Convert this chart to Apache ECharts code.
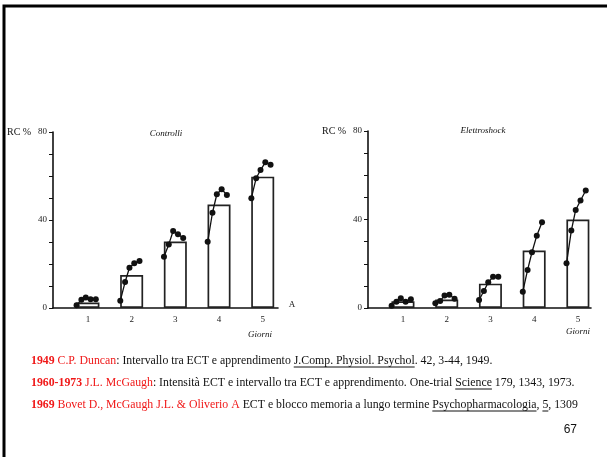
<!DOCTYPE html>
<html><head><meta charset="utf-8">
<script src="https://cdn.jsdelivr.net/npm/echarts@6/dist/echarts.min.js"></script>
<style>html,body{margin:0;padding:0;background:#fff}#c{width:607px;height:457px}</style>
</head><body><div id="c"></div>
<script>
// ---- data ----
const days = [1, 2, 3, 4, 5];
const trialPos = [-0.26, -0.15, -0.05, 0.06, 0.18]; // trial position within a day (axis units)
const controlBars = [2.5, 15, 30.2, 47, 59.7];
const shockBars = [3.0, 3.8, 11, 26, 40];
const controlTrials = [
  [1.2, 3.8, 4.8, 4.0, 4.0],
  [3.3, 11.8, 18.3, 20.3, 21.4],
  [23.3, 28.9, 35, 33.5, 31.8],
  [30.1, 43.3, 51.7, 54, 51.4],
  [49.9, 59, 62.7, 66.2, 65.1]
];
const shockTrials = [
  [1.0, 2.8, 4.4, 2.8, 3.9],
  [2.2, 3.2, 5.6, 6.0, 4.2],
  [3.6, 7.7, 11.6, 14.1, 14.1],
  [7.4, 17.2, 25.2, 32.7, 38.8],
  [20.2, 35, 44.3, 48.6, 53.1]
];
const yLabelValues = [0, 40, 80];
const chartTitles = ['Controlli', 'Elettroshock'];
const yName = 'RC %';
const xName = 'Giorni';
const citations = [
  [{t:'1949', c:'#f01818', b:true}, {t:' C.P. Duncan', c:'#f01818'}, {t:': Intervallo tra ECT e apprendimento ', c:'#111'}, {t:'J.Comp. Physiol. Psychol', c:'#111', u:true}, {t:'. 42, 3-44, 1949.', c:'#111'}],
  [{t:'1960-1973', c:'#f01818', b:true}, {t:' J.L. McGaugh', c:'#f01818'}, {t:': Intensità ECT e intervallo tra ECT e apprendimento. One-trial ', c:'#111'}, {t:'Science', c:'#111', u:true}, {t:' 179, 1343, 1973.', c:'#111'}],
  [{t:'1969', c:'#f01818', b:true}, {t:' Bovet D., McGaugh J.L. & Oliverio A', c:'#f01818'}, {t:' ECT e blocco memoria a lungo termine ', c:'#111'}, {t:'Psychopharmacologia', c:'#111', u:true}, {t:', ', c:'#111'}, {t:'5', c:'#111', u:true}, {t:', 1309', c:'#111'}]
];
const pageNumber = '67';

// ---- chart ----
const SERIF = '"Liberation Serif", "Times New Roman", serif';
const chart = echarts.init(document.getElementById('c'), null, {renderer: 'canvas'});

function xAxisFor(i, max) {
  return {
    type: 'value', gridIndex: i, min: 0.2, max: max,
    splitLine: {show: false},
    axisLine: {show: true, onZero: false, lineStyle: {color: '#111', width: 1.6}},
    axisTick: {show: false},
    axisLabel: {customValues: days, margin: 7, color: '#222', fontFamily: SERIF, fontSize: 9}
  };
}
function yAxisFor(i) {
  return {
    type: 'value', gridIndex: i, min: 0, max: 80, interval: 10,
    splitLine: {show: false},
    axisLine: {show: true, lineStyle: {color: '#111', width: 1.6}},
    axisTick: {show: true, length: 4, lineStyle: {color: '#111', width: 1}},
    axisLabel: {margin: 6, color: '#222', fontFamily: SERIF, fontSize: 9,
      formatter: v => yLabelValues.indexOf(v) >= 0 ? String(v) : ''}
  };
}

const series = [];
[[controlBars, controlTrials], [shockBars, shockTrials]].forEach(([bars, trials], ci) => {
  series.push({
    type: 'bar', xAxisIndex: ci, yAxisIndex: ci, barWidth: 23, z: 2,
    data: days.map((d, i) => [d, bars[i]]),
    itemStyle: {color: '#fff', borderColor: '#222', borderWidth: 1.7}
  });
  days.forEach((d, di) => {
    series.push({
      type: 'line', xAxisIndex: ci, yAxisIndex: ci, z: 4,
      data: trialPos.map((o, k) => [d + o, trials[di][k]]),
      symbol: 'circle', symbolSize: 6, showSymbol: true,
      itemStyle: {color: '#111'},
      lineStyle: {color: '#111', width: 1.3}
    });
  });
});

// citation text with underlines
const mctx = document.createElement('canvas').getContext('2d');
function citeLine(segs, x0, y, size) {
  let x = x0; const out = [];
  segs.forEach(s => {
    const f = (s.b ? 'bold ' : '') + size + 'px ' + SERIF;
    mctx.font = f;
    const w = mctx.measureText(s.t).width;
    out.push({type: 'text', x: x, y: y, silent: true,
      style: {text: s.t, font: f, fill: s.c, verticalAlign: 'middle', align: 'left'}});
    if (s.u) out.push({type: 'line', silent: true,
      shape: {x1: x, y1: y + 6, x2: x + w, y2: y + 6},
      style: {stroke: '#111', lineWidth: 1}});
    x += w;
  });
  return out;
}

const graphic = [
  {type: 'rect', silent: true, shape: {x: 4, y: 6, width: 700, height: 600},
    style: {fill: 'none', stroke: '#000', lineWidth: 3}},
  {type: 'text', x: 7, y: 132, style: {text: yName, font: '10px ' + SERIF, fill: '#111', verticalAlign: 'middle'}},
  {type: 'text', x: 322, y: 131, style: {text: yName, font: '10px ' + SERIF, fill: '#111', verticalAlign: 'middle'}},
  {type: 'text', x: 166, y: 134, style: {text: chartTitles[0], font: 'italic 9px ' + SERIF, fill: '#111', align: 'center', verticalAlign: 'middle'}},
  {type: 'text', x: 483, y: 131, style: {text: chartTitles[1], font: 'italic 9px ' + SERIF, fill: '#111', align: 'center', verticalAlign: 'middle'}},
  {type: 'text', x: 292, y: 305, style: {text: 'A', font: '9px ' + SERIF, fill: '#111', align: 'center', verticalAlign: 'middle'}},
  {type: 'text', x: 260, y: 335, style: {text: xName, font: 'italic 9px ' + SERIF, fill: '#111', align: 'center', verticalAlign: 'middle'}},
  {type: 'text', x: 578, y: 332, style: {text: xName, font: 'italic 9px ' + SERIF, fill: '#111', align: 'center', verticalAlign: 'middle'}},
  {type: 'text', x: 577, y: 430, style: {text: pageNumber, font: '12px "Liberation Sans", Arial, sans-serif', fill: '#111', align: 'right', verticalAlign: 'middle'}}
];
citations.forEach((segs, i) => { graphic.push(...citeLine(segs, 31, 361 + i * 22, 11.8)); });

chart.setOption({
  animation: false,
  backgroundColor: '#fff',
  grid: [
    {left: 53, top: 132, width: 225, height: 176},
    {left: 368, top: 131, width: 223, height: 177}
  ],
  xAxis: [xAxisFor(0, 5.35), xAxisFor(1, 5.3)],
  yAxis: [yAxisFor(0), yAxisFor(1)],
  series: series,
  graphic: graphic
});
</script>
</body></html>
